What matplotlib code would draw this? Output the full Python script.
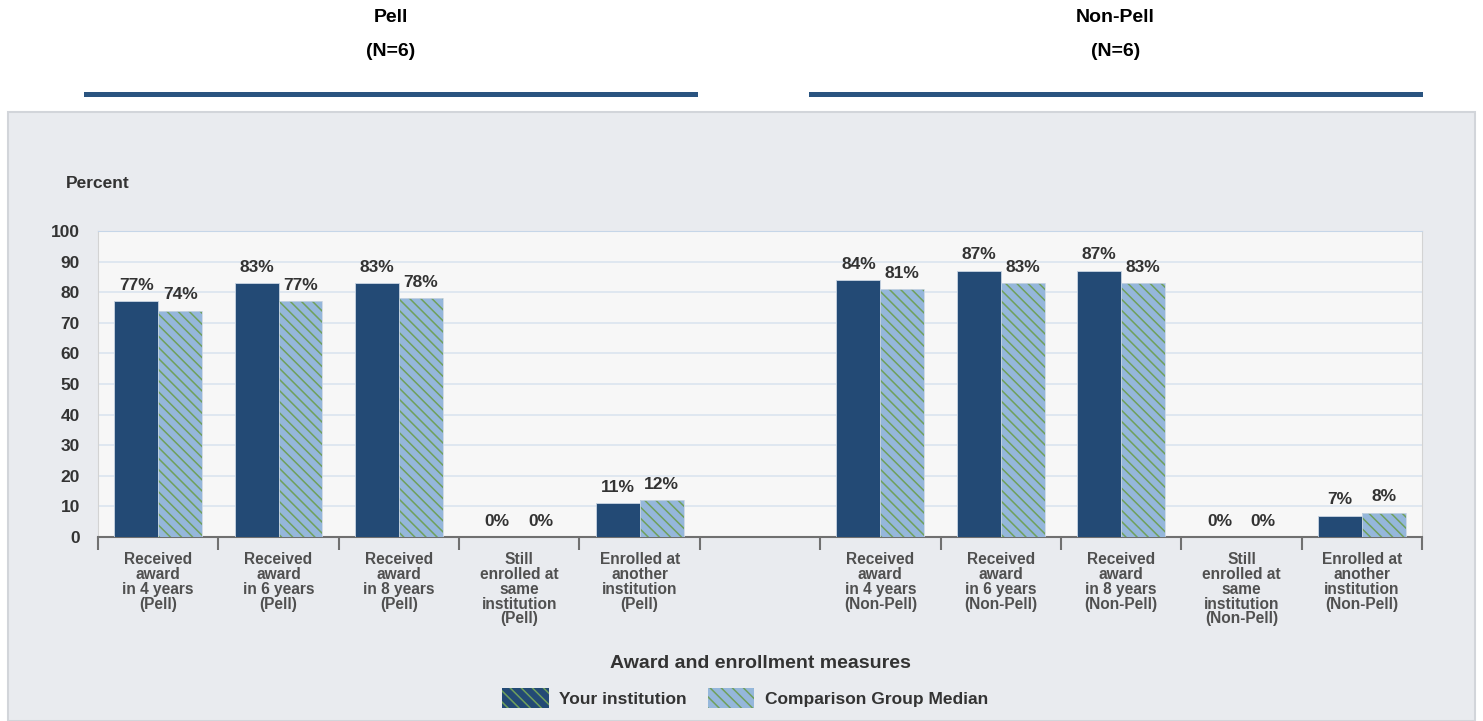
import numpy as np
import matplotlib.pyplot as plt
from matplotlib.patches import Rectangle, Patch
from matplotlib.lines import Line2D

plt.rcParams['font.family'] = ['Liberation Sans', 'DejaVu Sans']
plt.rcParams['hatch.linewidth'] = 1.1

# data
categories = [
    "Received\naward\nin 4 years\n(Pell)",
    "Received\naward\nin 6 years\n(Pell)",
    "Received\naward\nin 8 years\n(Pell)",
    "Still\nenrolled at\nsame\ninstitution\n(Pell)",
    "Enrolled at\nanother\ninstitution\n(Pell)",
    "",
    "Received\naward\nin 4 years\n(Non-Pell)",
    "Received\naward\nin 6 years\n(Non-Pell)",
    "Received\naward\nin 8 years\n(Non-Pell)",
    "Still\nenrolled at\nsame\ninstitution\n(Non-Pell)",
    "Enrolled at\nanother\ninstitution\n(Non-Pell)",
]
your_inst = [77, 83, 83, 0, 11, None, 84, 87, 87, 0, 7]
comp_median = [74, 77, 78, 0, 12, None, 81, 83, 83, 0, 8]
groups = ["Pell\n(N=6)", "Non-Pell\n(N=6)"]
series_names = ["Your institution", "Comparison Group Median"]

dark = '#234a75'
light = '#95b7db'
hatch_col = '#6fa05c'
txt = '#333333'
pattern = '\\\\\\'

fig = plt.figure(figsize=(14.83, 7.21), dpi=100)
W, H = 1483, 721

# grey panel
fig.patches.append(Rectangle((8 / W, 0), (1475 - 8) / W, 1 - 112 / H, transform=fig.transFigure,
                             facecolor='#e9ebef', edgecolor='#d2d5da', lw=1.5, zorder=-5))

# group headers and rules
for i, g in enumerate(groups):
    x0, x1 = [(86, 695), (811, 1420)][i]
    cx = (x0 + x1) / 2 / W
    name, n = g.split("\n")
    fig.text(cx, 1 - 18 / H, name, ha='center', va='center', fontsize=14, fontweight='bold',
             color='black')
    fig.text(cx, 1 - 51 / H, n, ha='center', va='center', fontsize=14, fontweight='bold',
             color='black')
    fig.add_artist(Line2D([x0 / W, x1 / W], [1 - 94 / H, 1 - 94 / H], color='#2a5480', lw=3.6,
                          transform=fig.transFigure))

ax = fig.add_axes([98 / W, 1 - 537 / H, (1422 - 98) / W, (537 - 231) / H])
ax.set_zorder(2)
ax.set_facecolor('#f7f7f7')

x = np.arange(len(categories))
bw = 0.365
for i in x:
    a, b = your_inst[i], comp_median[i]
    if a is None:
        continue
    ax.bar(i - bw / 2, a, bw, color=dark, edgecolor='#c9d5e3', lw=0.6, zorder=3)
    ax.bar(i + bw / 2, b, bw, color=light, edgecolor=hatch_col, lw=0, hatch=pattern, zorder=3)
    ax.bar(i + bw / 2, b, bw, color='none', edgecolor='#c9d5e3', lw=0.6, zorder=4)
    ax.annotate(f"{a}%", (i - bw / 2, a), xytext=(0, 6), textcoords='offset points',
                ha='center', va='bottom', fontsize=12.5, fontweight='bold', color=txt)
    ax.annotate(f"{b}%", (i + bw / 2, b), xytext=(0, 6), textcoords='offset points',
                ha='center', va='bottom', fontsize=12.5, fontweight='bold', color=txt)

ax.set_xlim(-0.5, len(categories) - 0.5)
ax.set_ylim(0, 100)
ax.set_yticks(range(0, 101, 10))
ax.yaxis.grid(True, color='#dbe4ef', lw=1.2, zorder=0)
ax.set_axisbelow(True)
ax.tick_params(axis='y', length=0, pad=13, labelsize=12.5, labelcolor=txt)
for lab in ax.get_yticklabels():
    lab.set_fontweight('bold')

ax.set_xticks(np.arange(-0.5, len(categories), 1.0))
ax.set_xticklabels([])
ax.set_xticks(x, minor=True)
ax.set_xticklabels(categories, minor=True, fontsize=11.2, fontweight='bold', color='#505050',
                   linespacing=0.98)
ax.tick_params(axis='x', which='major', length=9, width=1.5, color='#707070')
ax.tick_params(axis='x', which='minor', length=0, pad=11)

ax.spines['bottom'].set_color('#707070')
ax.spines['bottom'].set_linewidth(1.5)
ax.spines['top'].set_color('#c6d6e8')
ax.spines['left'].set_color('#d3d3d3')
ax.spines['right'].set_color('#d3d3d3')

fig.text(98 / W, 1 - 183 / H, "Percent", ha='center', va='center', fontsize=12.5,
         fontweight='bold', color=txt)
fig.text(760 / W, 1 - 663 / H, "Award and enrollment measures", ha='center', va='center',
         fontsize=14, fontweight='bold', color=txt)

handles = [Patch(facecolor=dark, edgecolor=hatch_col, hatch=pattern, lw=0),
           Patch(facecolor=light, edgecolor=hatch_col, hatch=pattern, lw=0)]
fig.legend(handles, series_names, loc='center', bbox_to_anchor=(745 / W, 1 - 698 / H),
           ncol=2, frameon=False, handlelength=2.7, handleheight=1.4, columnspacing=1.2,
           handletextpad=0.6, prop={'size': 12.5, 'weight': 'bold'}, labelcolor=txt)

fig.savefig('out.png', dpi=100)
